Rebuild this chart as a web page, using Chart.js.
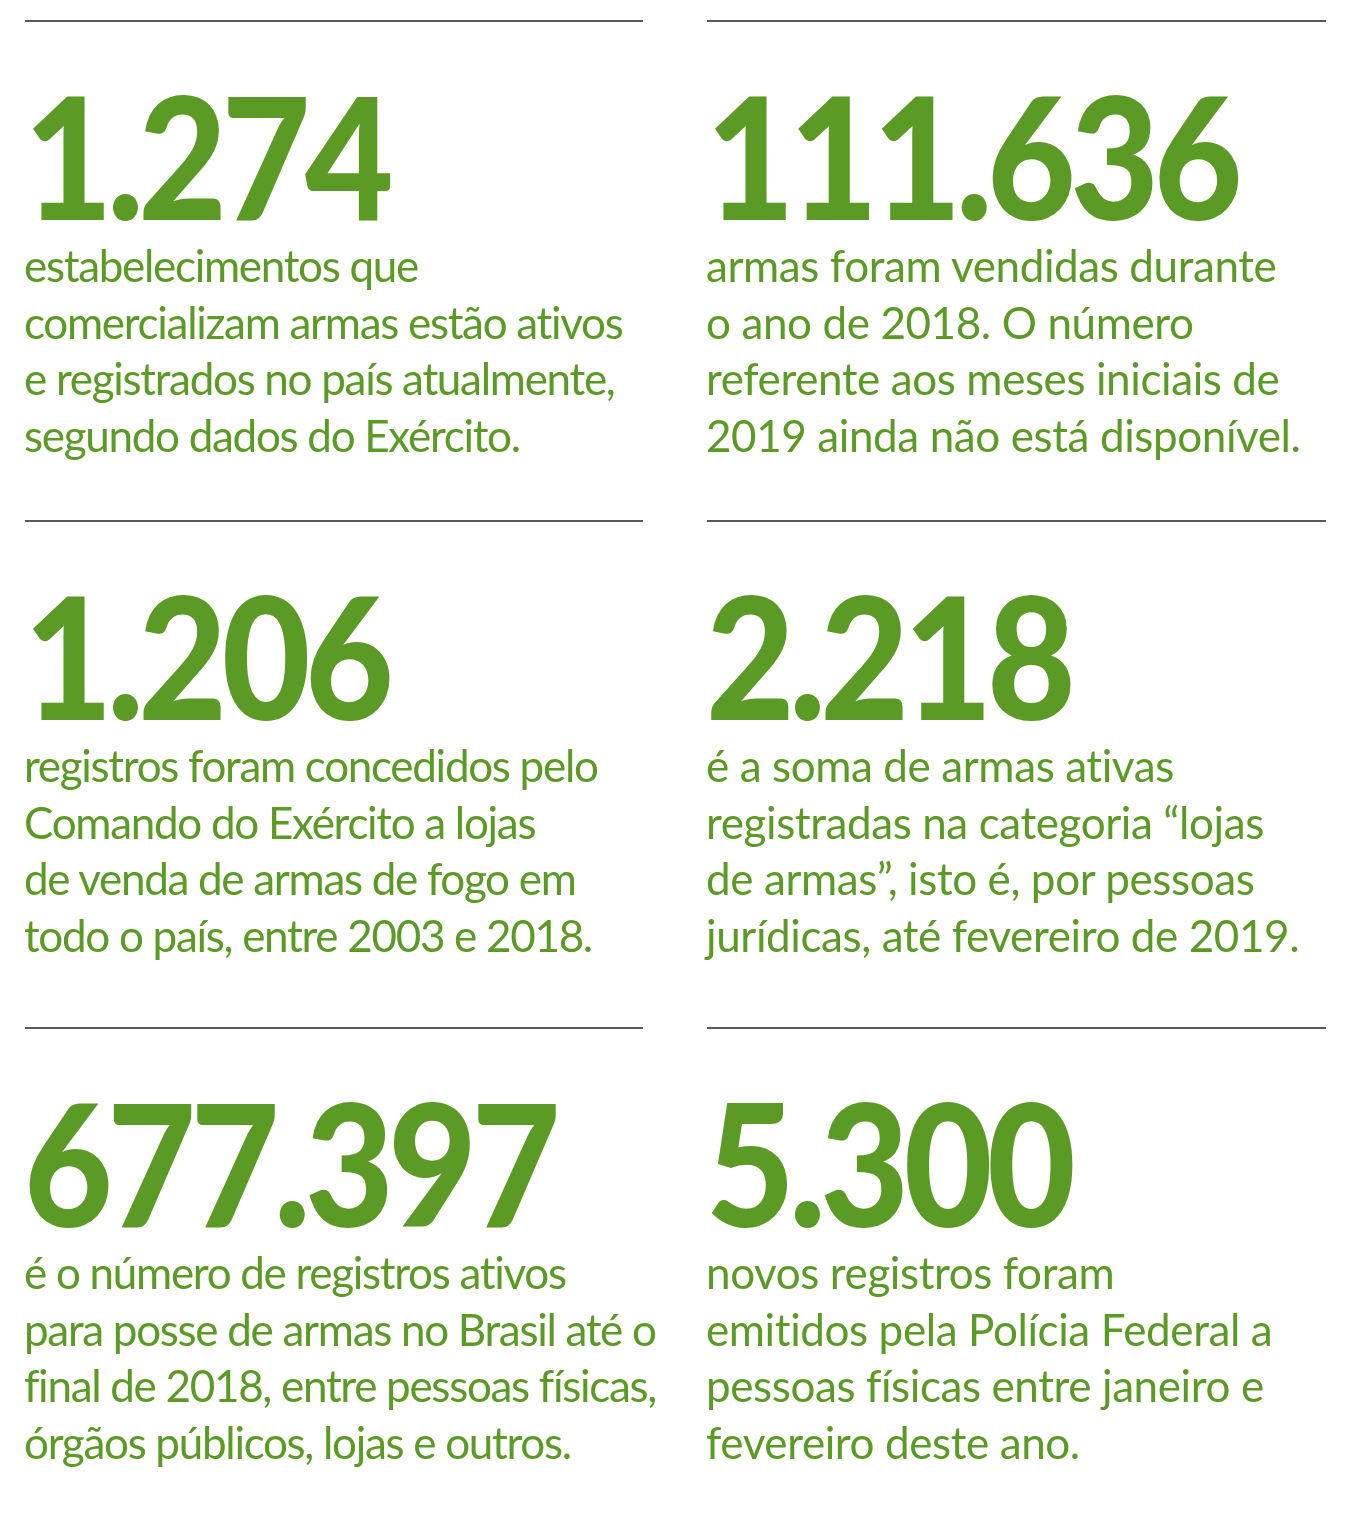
<!DOCTYPE html>
<html><head><meta charset="utf-8">
<script src="https://cdn.jsdelivr.net/npm/chart.js@4"></script>
<style>
html,body{margin:0;padding:0;background:#fff;width:1347px;height:1514px;overflow:hidden}
#wrap{position:relative;width:1347px;height:1514px}
canvas{position:absolute;left:0;top:0}
.cell{position:absolute;color:#5b9a24;font-family:Lato,"Open Sans",sans-serif}
.num{font-weight:900;font-size:170px;line-height:1;letter-spacing:-6px;white-space:nowrap;transform:scaleX(0.9);transform-origin:0 0;height:168px}
.txt{font-weight:400;font-size:44px;line-height:56.5px;letter-spacing:-1.3px;white-space:nowrap;margin-top:0px}
.r .txt{letter-spacing:-0.4px}
</style></head><body><div id="wrap"><canvas id="c" width="1347" height="1514"></canvas></div>
<script>
const values=["1.274","111.636","1.206","2.218","677.397","5.300"];
const captions=[
["estabelecimentos que","comercializam armas estão ativos","e registrados no país atualmente,","segundo dados do Exército."],
["armas foram vendidas durante","o ano de 2018. O número","referente aos meses iniciais de","2019 ainda não está disponível."],
["registros foram concedidos pelo","Comando do Exército a lojas","de venda de armas de fogo em","todo o país, entre 2003 e 2018."],
["é a soma de armas ativas","registradas na categoria “lojas","de armas”, isto é, por pessoas","jurídicas, até fevereiro de 2019."],
["é o número de registros ativos","para posse de armas no Brasil até o","final de 2018, entre pessoas físicas,","órgãos públicos, lojas e outros."],
["novos registros foram","emitidos pela Polícia Federal a","pessoas físicas entre janeiro e","fevereiro deste ano."]];
const rowRules=[21,521,1028];
const colX=[[25,643],[707,1326]];
const wrap=document.getElementById('wrap');
values.forEach((v,i)=>{
  const r=Math.floor(i/2),c=i%2;
  const d=document.createElement('div');d.className='cell'+(c?' r':'');
  d.style.left=(colX[c][0]-1)+'px';d.style.top=(rowRules[r]+48)+'px';
  d.innerHTML='<div class="num">'+v+'</div><div class="txt">'+captions[i].join('<br>')+'</div>';
  wrap.appendChild(d);
});
const ds=[];
rowRules.forEach(y=>colX.forEach(x=>ds.push({data:[{x:x[0],y:y},{x:x[1],y:y}],borderColor:'#222',borderWidth:1.5,pointRadius:0,showLine:true})));
new Chart(document.getElementById('c'),{type:'scatter',data:{datasets:ds},
options:{responsive:false,animation:false,layout:{padding:0},plugins:{legend:{display:false},tooltip:{enabled:false}},
scales:{x:{type:'linear',min:0,max:1347,display:false},y:{type:'linear',min:0,max:1514,reverse:true,display:false}}}});
</script></body></html>
